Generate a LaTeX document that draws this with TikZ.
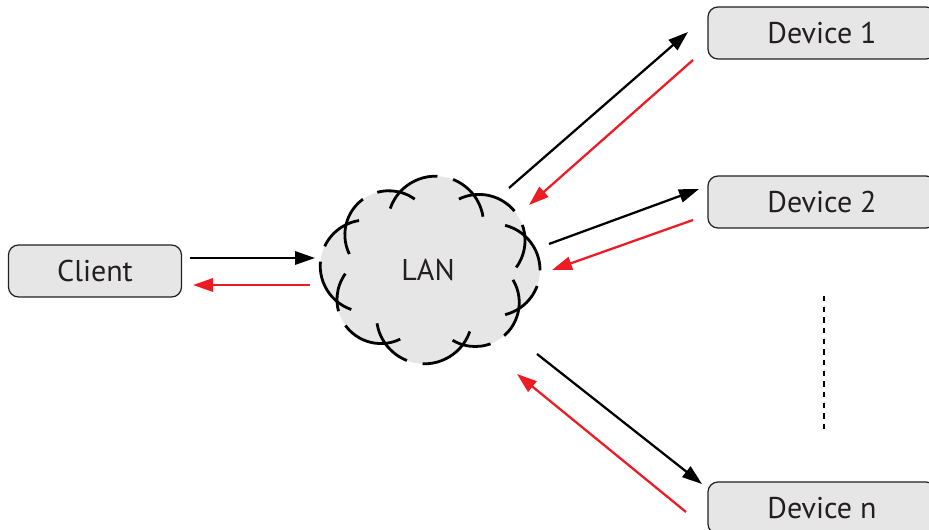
\documentclass[tikz,border=0pt]{standalone}
\usepackage{fontspec}
\setmainfont{PT Sans}
\usetikzlibrary{arrows.meta}
\definecolor{boxgray}{RGB}{230,230,230}
\definecolor{inkgray}{RGB}{35,31,32}
\definecolor{replyred}{RGB}{237,28,36}

\begin{document}
\begin{tikzpicture}[x=0.75pt, y=-0.75pt]
	\tikzstyle{txt} = [text=inkgray, font=\fontsize{22.5}{27}\selectfont]
	\tikzstyle{box} = [txt, draw=inkgray, fill=boxgray, rounded corners=7.5pt, line width=0.9pt, minimum height=39pt]
	\tikzstyle{req} = [-{Triangle[length=15pt, width=10pt]}, line width=1.7pt, black]
	\tikzstyle{rep} = [req, replyred]
	\useasboundingbox (0,0) rectangle (929,530);
	% the LAN cloud
	\foreach \t/\r in {0/46, 45/44, 95/48, 140/44, 185/46, 230/44, 275/48, 320/46}
		\fill[boxgray] ({430+64*cos(\t)}, {270+46*sin(\t)}) circle[radius=\r];
	\fill[boxgray] (430,270) ellipse[x radius=64, y radius=46];
	\foreach \t/\r in {0/46, 45/44, 95/48, 140/44, 185/46, 230/44, 275/48, 320/46}
		\draw[line width=2.1pt, dash pattern=on 52pt off 12pt, dash phase=6pt] ({430+64*cos(\t)}, {270+46*sin(\t)}) ++(\t-76:\r) arc[start angle=\t-76, end angle=\t+76, radius=\r];
	\node (LAN) at (428, 270) [txt] {LAN};
	\node (Client) at (95, 271) [box, minimum width=129.75pt] {Client};
	\node (Dev1) at (822, 33) [box, minimum width=171pt] {Device 1};
	\node (Dev2) at (822, 202) [box, minimum width=171pt] {Device 2};
	\node (DevN) at (822, 508) [box, minimum width=171pt] {Device n};
	\coordinate (DotsTop) at (824, 296);
	\coordinate (DotsBot) at (824, 429);
	\draw [line width=1.5pt, dash pattern=on 4pt off 4pt] (DotsTop)--(DotsBot);
	% arrow ends
	\coordinate (cl1) at (190, 258); \coordinate (cl2) at (315, 258);
	\coordinate (cl3) at (310, 285); \coordinate (cl4) at (193, 285);
	\coordinate (d11) at (509, 188); \coordinate (d12) at (688, 32);
	\coordinate (d13) at (693, 60); \coordinate (d14) at (529, 205);
	\coordinate (d21) at (549, 244); \coordinate (d22) at (699, 189);
	\coordinate (d23) at (693, 220); \coordinate (d24) at (552, 270);
	\coordinate (dn1) at (537, 354); \coordinate (dn2) at (702, 484);
	\coordinate (dn3) at (686, 512); \coordinate (dn4) at (517, 374);
	\draw [req] (cl1)--(cl2);
	\draw [rep] (cl3)--(cl4);
	\draw [req] (d11)--(d12);
	\draw [rep] (d13)--(d14);
	\draw [req] (d21)--(d22);
	\draw [rep] (d23)--(d24);
	\draw [req] (dn1)--(dn2);
	\draw [rep] (dn3)--(dn4);
\end{tikzpicture}
\end{document}
